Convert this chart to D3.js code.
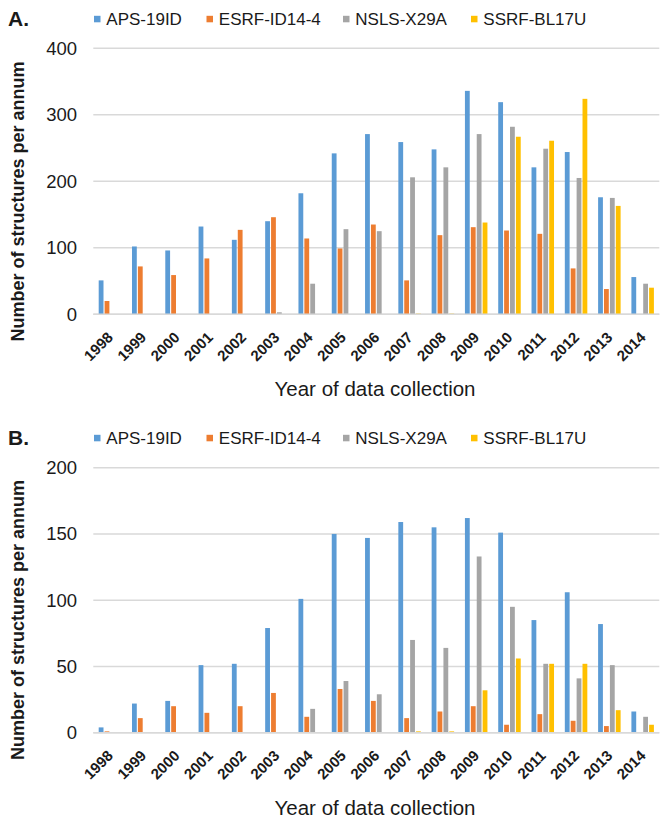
<!DOCTYPE html>
<html>
<head>
<meta charset="utf-8">
<script src="https://cdn.jsdelivr.net/npm/d3@7"></script>
<style>
  html, body { margin: 0; padding: 0; background: #fff; }
  text { font-family: "Liberation Sans", Arial, sans-serif; fill: #1a1a1a; }
</style>
</head>
<body>
<svg id="chart" width="668" height="823"></svg>
<script>
const years = ["1998","1999","2000","2001","2002","2003","2004","2005","2006","2007","2008","2009","2010","2011","2012","2013","2014"];
const seriesNames = ["APS-19ID","ESRF-ID14-4","NSLS-X29A","SSRF-BL17U"];
const seriesColors = ["#5B9BD5","#ED7D31","#A5A5A5","#FFC000"];

// Panel A: all structures
const apsA  = [51,102,96,132,112,140,182,242,271,259,248,336,319,221,244,176,56];
const esrfA = [20,72,59,84,127,146,114,99,135,51,119,131,126,121,69,38,0];
const nslsA = [0,0,0,0,0,3,46,128,125,206,221,271,282,249,205,175,46];
const ssrfA = [0,0,0,0,0,0,0,0,0,1,1,138,267,261,324,163,40];
const ticksA = [0,100,200,300,400];

// Panel B
const apsB  = [4,22,24,51,52,79,101,150,147,159,155,162,151,85,106,82,16];
const esrfB = [1,11,20,15,20,30,12,33,24,11,16,20,6,14,9,5,0];
const nslsB = [0,0,0,0,0,0,18,39,29,70,64,133,95,52,41,51,12];
const ssrfB = [0,0,0,0,0,0,0,0,0,1,1,32,56,52,52,17,6];
const ticksB = [0,50,100,150,200];

const svg = d3.select("#chart");

function panel(cfg) {
  const g = svg.append("g");
  const x0 = d3.scaleBand().domain(years).range([93.3, 659.3]).padding(0);
  const groupW = 22.5;
  const x1 = d3.scaleBand().domain(seriesNames).range([0, groupW]).paddingInner(0.186).paddingOuter(0);
  const y = d3.scaleLinear().domain([0, cfg.max]).range([cfg.base, cfg.top]);

  // gridlines
  g.selectAll("line.grid").data(cfg.ticks).enter().append("line")
    .attr("x1", 93.3).attr("x2", 659.3)
    .attr("y1", d => y(d)).attr("y2", d => y(d))
    .attr("stroke", "#D9D9D9").attr("stroke-width", 1.4);

  // y tick labels
  g.selectAll("text.yt").data(cfg.ticks).enter().append("text")
    .attr("x", 77).attr("y", d => y(d) + 6.5)
    .attr("text-anchor", "end").attr("font-size", 18.5)
    .text(d => d);

  // bars
  const data = cfg.values;
  seriesNames.forEach((s, si) => {
    g.selectAll("rect.s" + si).data(data[si]).enter().append("rect")
      .attr("x", (d, i) => x0(years[i]) + (x0.bandwidth() - groupW) / 2 + x1(s))
      .attr("width", x1.bandwidth())
      .attr("y", d => y(d))
      .attr("height", d => y(0) - y(d))
      .attr("fill", seriesColors[si]);
  });

  // baseline
  g.append("line").attr("x1", 93.3).attr("x2", 659.3)
    .attr("y1", y(0)).attr("y2", y(0))
    .attr("stroke", "#D9D9D9").attr("stroke-width", 1.4);

  // x tick labels
  g.selectAll("text.xt").data(years).enter().append("text")
    .attr("transform", d => `translate(${x0(d) + x0.bandwidth() / 2 + 4},${y(0) + 24}) rotate(-45)`)
    .attr("text-anchor", "end").attr("font-size", 15).attr("font-weight", "bold")
    .text(d => d);

  // x axis title
  g.append("text").attr("x", 375).attr("y", y(0) + 82)
    .attr("text-anchor", "middle").attr("font-size", 20.5)
    .text("Year of data collection");

  // y axis title
  g.append("text")
    .attr("transform", `translate(24,${cfg.ylabelCenter}) rotate(-90)`)
    .attr("text-anchor", "middle").attr("font-size", 18).attr("font-weight", "bold")
    .text("Number of structures per annum");

  // panel letter
  g.append("text").attr("x", 8).attr("y", cfg.legendY + 6.5)
    .attr("font-size", 21).attr("font-weight", "bold")
    .text(cfg.letter);

  // legend
  const sqX = [94, 206.5, 343, 471];
  seriesNames.forEach((s, si) => {
    g.append("rect").attr("x", sqX[si]).attr("y", cfg.legendY - 3.2)
      .attr("width", 6.5).attr("height", 6.5).attr("fill", seriesColors[si]);
    g.append("text").attr("x", sqX[si] + 12.3).attr("y", cfg.legendY + 6.2)
      .attr("font-size", 17).text(s);
  });
}

panel({letter: "A.", values: [apsA, esrfA, nslsA, ssrfA], max: 400, ticks: ticksA,
       base: 314.3, top: 48.3, legendY: 19, ylabelCenter: 201.5});
panel({letter: "B.", values: [apsB, esrfB, nslsB, ssrfB], max: 200, ticks: ticksB,
       base: 732.7, top: 467.7, legendY: 438, ylabelCenter: 620});
</script>
</body>
</html>
